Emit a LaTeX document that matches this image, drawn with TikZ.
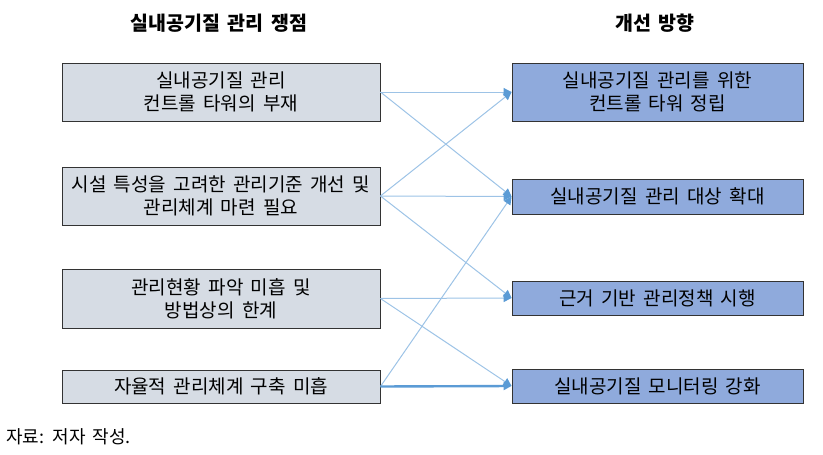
\documentclass[tikz,border=0pt]{standalone}
\usepackage{fontspec}
\setmainfont{Noto Sans CJK KR}
\newfontfamily\cjk[WordSpace=1.7]{Noto Sans CJK KR}
\usetikzlibrary{arrows.meta,shadows}
\definecolor{leftfill}{HTML}{D6DCE4}
\definecolor{rightfill}{HTML}{8FAADC}
\definecolor{linkblue}{HTML}{9DC3E6}
\definecolor{tipblue}{HTML}{5B9BD5}
\tikzset{
  boxbase/.style={draw=black!80, line width=0.9pt, inner sep=0pt, align=center,
    font=\cjk\fontsize{19}{23}\selectfont,
    drop shadow={shadow xshift=1.1pt, shadow yshift=-1.1pt, fill=black!85, opacity=1}},
  issuebox/.style={boxbase, fill=leftfill, minimum width=318pt},
  dirbox/.style={boxbase, fill=rightfill, minimum width=291pt},
  link/.style={draw=linkblue, line width=1pt, -{Triangle[length=8pt,width=8pt,color=tipblue]}},
  strong/.style={draw=tipblue, line width=2.4pt, -{Triangle[length=8pt,width=8pt,color=tipblue]}},
  heading/.style={font=\cjk\bfseries\fontsize{19.5}{22}\selectfont, inner sep=0pt},
  source/.style={font=\cjk\fontsize{18}{20}\selectfont, inner sep=0pt, anchor=west}
}
\begin{document}
\begin{tikzpicture}[x=1pt,y=-1pt]
\useasboundingbox (0,0) rectangle (823,455);
\node[heading] (h1) at (219,23) {실내공기질 관리 쟁점};
\node[heading] (h2) at (655,23) {개선 방향};

\node[issuebox, minimum height=58pt] (L1) at (221,92) {실내공기질 관리\\컨트롤 타워의 부재};
\node[issuebox, minimum height=58pt] (L2) at (221,196) {시설 특성을 고려한 관리기준 개선 및\\관리체계 마련 필요};
\node[issuebox, minimum height=59pt] (L3) at (221,298.5) {관리현황 파악 미흡 및\\방법상의 한계};
\node[issuebox, minimum height=33pt] (L4) at (221,386.5) {자율적 관리체계 구축 미흡};

\node[dirbox, minimum height=58pt] (R1) at (657.5,92) {실내공기질 관리를 위한\\컨트롤 타워 정립};
\node[dirbox, minimum height=35pt] (R2) at (657.5,196.5) {실내공기질 관리 대상 확대};
\node[dirbox, minimum height=34pt] (R3) at (657.5,298) {근거 기반 관리정책 시행};
\node[dirbox, minimum height=34pt] (R4) at (657.5,386) {실내공기질 모니터링 강화};

\draw[link] (L1.east) -- (R1.west);
\draw[link] (L1.east) -- (R2.west);
\draw[link] (L2.east) -- (R1.west);
\draw[link] (L2.east) -- (R2.west);
\draw[link] (L2.east) -- (R3.west);
\draw[link] (L3.east) -- (R3.west);
\draw[link] (L3.east) -- (R4.west);
\draw[link] (L4.east) -- (R2.west);
\draw[strong] (L4.east) -- (R4.west);

\node[source] (src) at (6,437) {자료: 저자 작성.};
\end{tikzpicture}
\end{document}
